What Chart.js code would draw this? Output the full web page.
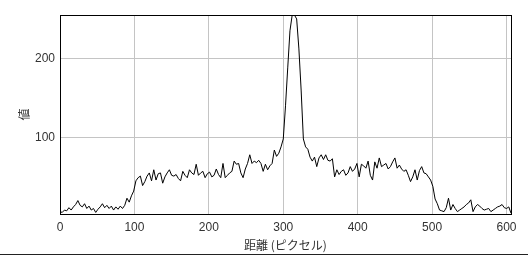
<!DOCTYPE html>
<html>
<head>
<meta charset="utf-8">
<script src="https://cdn.jsdelivr.net/npm/chart.js@4/dist/chart.umd.min.js"></script>
<style>
  html, body { margin: 0; padding: 0; background: #fff; }
  #wrap { width: 528px; height: 254px; border-bottom: 1px solid #222; }
  canvas { display: block; }
</style>
</head>
<body>
<div id="wrap"><canvas id="profile" width="528" height="254"></canvas></div>
<script>
// distance along the line (pixels), sampled every 3
const distances = [
  0, 3, 6, 9, 12, 15, 18, 21, 24, 27, 30, 33, 36, 39, 42, 45, 48, 51, 54, 57,
  60, 63, 66, 69, 72, 75, 78, 81, 84, 87, 90, 93, 96, 99, 102, 105, 108, 111, 114, 117,
  120, 123, 126, 129, 132, 135, 138, 141, 144, 147, 150, 153, 156, 159, 162, 165, 168, 171, 174, 177,
  180, 183, 186, 189, 192, 195, 198, 201, 204, 207, 210, 213, 216, 219, 222, 225, 228, 231, 234, 237,
  240, 243, 246, 249, 252, 255, 258, 261, 264, 267, 270, 273, 276, 279, 282, 285, 288, 291, 294, 297,
  300, 303, 306, 309, 312, 315, 318, 321, 324, 327, 330, 333, 336, 339, 342, 345, 348, 351, 354, 357,
  360, 363, 366, 369, 372, 375, 378, 381, 384, 387, 390, 393, 396, 399, 402, 405, 408, 411, 414, 417,
  420, 423, 426, 429, 432, 435, 438, 441, 444, 447, 450, 453, 456, 459, 462, 465, 468, 471, 474, 477,
  480, 483, 486, 489, 492, 495, 498, 501, 504, 507, 510, 513, 516, 519, 522, 525, 528, 531, 534, 537,
  540, 543, 546, 549, 552, 555, 558, 561, 564, 567, 570, 573, 576, 579, 582, 585, 588, 591, 594, 597,
  600, 603, 606
];

// grey value at each distance
const values = [
  6, 5, 8, 7, 11, 8, 12, 15, 20, 14, 12, 16, 10, 13, 8, 10, 5, 9, 12, 16,
  11, 14, 10, 13, 8, 12, 9, 13, 10, 14, 23, 18, 26, 32, 45, 49, 51, 39, 44, 51,
  55, 45, 59, 46, 54, 55, 42, 50, 55, 59, 52, 51, 53, 48, 45, 57, 52, 49, 59, 55,
  53, 66, 52, 55, 57, 49, 54, 56, 50, 52, 60, 53, 49, 67, 49, 52, 55, 57, 70, 66,
  67, 55, 49, 60, 67, 78, 67, 70, 68, 71, 67, 57, 66, 59, 64, 67, 84, 76, 80, 88,
  98, 140, 188, 235, 255, 255, 250, 212, 160, 98, 88, 85, 75, 70, 75, 63, 74, 78, 72, 78,
  71, 70, 73, 50, 59, 53, 57, 59, 52, 55, 63, 57, 60, 67, 50, 66, 64, 61, 70, 52,
  46, 69, 61, 74, 63, 65, 67, 60, 63, 69, 74, 61, 65, 60, 57, 59, 52, 44, 50, 59,
  46, 58, 63, 55, 54, 50, 46, 38, 22, 16, 8, 7, 6, 11, 23, 8, 15, 10, 6, 8,
  10, 12, 15, 17, 21, 6, 12, 15, 13, 10, 8, 9, 10, 6, 8, 10, 12, 13, 15, 11,
  10, 12, 4
];

const xTicks = [0, 100, 200, 300, 400, 500, 600];
const yTicks = [100, 200];

const xTitle = "距離 (ピクセル)";
const yTitle = "値";

const tickFont = { family: "'Liberation Sans', Arial, sans-serif", size: 12 };
const titleFont = { family: "'Noto Sans CJK JP', 'Liberation Sans', sans-serif", size: 12 };

const frame = {
  id: "frame",
  afterDraw(chart) {
    const { ctx, chartArea: a } = chart;
    ctx.save();
    ctx.strokeStyle = "#000";
    ctx.lineWidth = 1;
    ctx.strokeRect(Math.round(a.left) + 0.5, Math.round(a.top) + 0.5,
      Math.round(a.right - a.left), Math.round(a.bottom - a.top));
    ctx.restore();
  }
};

new Chart(document.getElementById("profile"), {
  type: "line",
  data: {
    datasets: [{
      data: distances.map((d, i) => ({ x: d, y: values[i] })),
      borderColor: "#000",
      borderWidth: 1,
      pointRadius: 0,
      tension: 0,
      fill: false
    }]
  },
  options: {
    responsive: false,
    animation: false,
    devicePixelRatio: 1,
    layout: { padding: { top: 15, right: 17, left: 0, bottom: 0 } },
    plugins: { legend: { display: false }, tooltip: { enabled: false } },
    scales: {
      x: {
        type: "linear",
        min: 0,
        max: 606,
        afterBuildTicks: (s) => { s.ticks = xTicks.map((v) => ({ value: v })); },
        afterFit: (s) => { s.height = 40; },
        grid: { color: "#c4c4c4", drawTicks: false },
        border: { display: false },
        ticks: { color: "#333", font: tickFont, padding: 6, maxRotation: 0 },
        title: { display: true, text: xTitle, color: "#333", font: titleFont, padding: { top: 0, bottom: 1 } }
      },
      y: {
        min: 3,
        max: 255,
        afterBuildTicks: (s) => { s.ticks = yTicks.map((v) => ({ value: v })); },
        afterFit: (s) => { s.width = 60; },
        grid: { color: "#c4c4c4", drawTicks: false },
        border: { display: false },
        ticks: { color: "#333", font: tickFont, padding: 5 },
        title: { display: true, text: yTitle, color: "#333", font: titleFont, padding: { top: 17, bottom: 0 } }
      }
    }
  },
  plugins: [frame]
});
</script>
</body>
</html>
